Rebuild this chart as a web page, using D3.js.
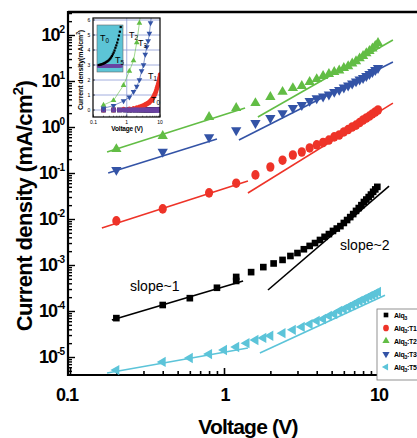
<!DOCTYPE html>
<html><head><meta charset="utf-8">
<script src="https://cdn.jsdelivr.net/npm/d3@7"></script>
<style>
body{margin:0;background:#fff;}
svg{display:block;font-family:"Liberation Sans",Arial,Helvetica,sans-serif;}
</style>
</head><body>
<svg id="c" width="417" height="438"></svg>
<script>
// ---------------- data ----------------
const seriesKeys = ["T0","T1","T2","T3","T5"];
const legendSuffix = ["", ":T1", ":T2", ":T3", ":T5"];
const xMajorTicks = [0.1, 1, 10];
const xTickLabels = ["0.1", "1", "10"];
const yMajorTicks = [1e-5, 1e-4, 1e-3, 1e-2, 1e-1, 1e0, 1e1, 1e2];
const yTickExponents = ["-5", "-4", "-3", "-2", "-1", "0", "1", "2"];

// Alq3 (black squares)
const voltT0 = [0.2,0.4,0.6,0.9,1.2,1.2,1.5,1.8,2.1,2.4,2.7,3.0,3.3,3.6,3.9,4.2,4.5,4.8,5.1,5.4,5.7,6.0,6.3,6.6,6.9,7.2,7.5,7.8,8.1,8.4,8.7,9.0,9.3,9.6,9.9];
const jT0 = [7.0e-5,1.35e-4,1.9e-4,3.2e-4,4.5e-4,5.5e-4,7.0e-4,9.0e-4,1.08e-3,1.29e-3,1.57e-3,1.82e-3,2.2e-3,2.6e-3,3.0e-3,3.5e-3,4.1e-3,4.7e-3,5.5e-3,6.2e-3,7.0e-3,8.2e-3,9.5e-3,1.1e-2,1.28e-2,1.5e-2,1.73e-2,2.0e-2,2.34e-2,2.65e-2,3.0e-2,3.4e-2,3.9e-2,4.4e-2,5.0e-2];

// Alq3:T1, T2, T3 share voltages
const voltDoped = [0.2,0.4,0.8,1.2,1.6,2.0,2.4,2.8,3.2,3.6,4.0,4.4,4.8,5.2,5.6,6.0,6.4,6.8,7.2,7.6,8.0,8.4,8.8,9.2,9.6,10];
const jT1 = [0.0091,0.0166,0.037,0.06,0.091,0.135,0.19,0.246,0.286,0.35,0.41,0.46,0.52,0.61,0.67,0.78,0.88,1.0,1.1,1.25,1.42,1.57,1.73,1.92,2.12,2.34];
const jT2 = [0.33,0.64,1.65,2.6,3.3,4.5,5.8,7.0,7.8,9.5,11,12.8,14.2,15.7,16.9,19.2,21,24,27,31,35,40,45,51,58,67];
const jT3 = [0.117,0.29,0.6,0.85,1.22,1.57,2.0,2.6,3.0,3.7,4.2,4.6,5.1,5.8,6.4,7.2,8.0,8.8,9.8,10.8,11.6,12.8,14.2,15.7,17.3,19.2];

// Alq3:T5 (cyan left triangles)
const voltT5 = [0.2,0.4,0.6,0.8,1.0,1.2,1.4,1.6,1.8,2.0,2.4,2.8,3.2,3.6,4.0,4.4,4.8,5.2,5.6,6.0,6.4,6.8,7.2,7.6,8.0,8.4,8.8,9.2,9.6,10];
const jT5 = [5.2e-6,7.8e-6,9.5e-6,1.16e-5,1.42e-5,1.65e-5,2.0e-5,2.34e-5,2.6e-5,2.9e-5,3.3e-5,3.9e-5,4.5e-5,5.2e-5,6.1e-5,6.7e-5,7.8e-5,8.6e-5,1.0e-4,1.1e-4,1.22e-4,1.35e-4,1.5e-4,1.65e-4,1.78e-4,1.92e-4,2.1e-4,2.23e-4,2.4e-4,2.6e-4];

// fitted power-law segments [[V,J],[V,J]]
const fitT0 = [[[0.187,6.4e-5],[1.33,4.5e-4]], [[1.93,2.86e-4],[11.8,0.052]]];
const fitT1 = [[[0.161,6.4e-3],[1.43,0.067]], [[1.43,0.0367],[12.5,3.3]]];
const fitT2 = [[[0.174,0.286],[1.37,2.59]], [[1.66,1.65],[12.5,78]]];
const fitT3 = [[[0.177,0.1],[0.90,0.55]], [[1.25,0.52],[12.5,25.9]]];
const fitT5 = [[[0.174,4.5e-6],[1.43,1.57e-5]], [[1.71,1.22e-5],[11.1,2.2e-4]]];

// inset
const insetYTicks = [0,1,2,3,4,5,6];
const insetXTickLabels = ["0.1","1","10"];

// ---------------- styles ----------------
const colors = {T0:"#000000", T1:"#ee3328", T2:"#62bd45", T3:"#3353a6", T5:"#5cc4d9"};
const purple = "#6a42a2";

const svg = d3.select("#c");
const PL=68, PR=440, PT=12, PB=375;
const x = d3.scaleLog().domain([0.1,10]).range([70,378]);
const y = d3.scaleLog().domain([1e-5,1e2]).range([357,35]);

const series = [
  {key:"T5", v:voltT5, j:jT5, fit:fitT5, shape:"left"},
  {key:"T0", v:voltT0, j:jT0, fit:fitT0, shape:"square"},
  {key:"T1", v:voltDoped, j:jT1, fit:fitT1, shape:"circle"},
  {key:"T3", v:voltDoped, j:jT3, fit:fitT3, shape:"down"},
  {key:"T2", v:voltDoped, j:jT2, fit:fitT2, shape:"up"}
];

function marker(sel, shape, color, scale){
  scale = scale||1;
  if(shape==="circle"){
    sel.append("ellipse").attr("rx",4.1*scale).attr("ry",4.8*scale).attr("fill",color);
  } else if(shape==="square"){
    sel.append("path").attr("d",d3.symbol(d3.symbolSquare,44*scale*scale)()).attr("fill",color);
  } else {
    const rot = shape==="up"?0:(shape==="down"?180:-90);
    sel.append("path").attr("d",d3.symbol(d3.symbolTriangle,46*scale*scale)())
      .attr("transform",`rotate(${rot})`).attr("fill",color);
  }
}

// clip
svg.append("defs").append("clipPath").attr("id","pc")
  .append("rect").attr("x",PL).attr("y",PT).attr("width",PR-PL).attr("height",PB-PT);

// axes ticks (inward)
const xMinor = [];
[0.1,1,10].forEach(d=>{for(let k=2;k<=9;k++) xMinor.push(d*k);});
const yMinor = [];
[1e-6,1e-5,1e-4,1e-3,1e-2,1e-1,1,10,100].forEach(d=>{for(let k=2;k<=9;k++){const v=d*k; if(y(v)<=PB && y(v)>=PT) yMinor.push(v);}});

const gx = svg.append("g").attr("transform",`translate(0,${PB})`);
gx.call(d3.axisBottom(x).tickValues(xMajorTicks).tickSize(-7).tickFormat(""));
gx.append("g").call(d3.axisBottom(x).tickValues(xMinor.filter(v=>x(v)<PR)).tickSize(-4).tickFormat(""));
gx.selectAll(".domain").remove();
gx.selectAll("line").attr("stroke","#000").attr("stroke-width",1.6);

const gy = svg.append("g").attr("transform",`translate(${PL},0)`);
gy.call(d3.axisLeft(y).tickValues(yMajorTicks).tickSize(-7).tickFormat(""));
gy.append("g").call(d3.axisLeft(y).tickValues(yMinor).tickSize(-4).tickFormat(""));
gy.selectAll(".domain").remove();
gy.selectAll("line").attr("stroke","#000").attr("stroke-width",1.4);

// frame
svg.append("line").attr("x1",PL).attr("x2",PR).attr("y1",PT).attr("y2",PT).attr("stroke","#000").attr("stroke-width",2.5);
svg.append("line").attr("x1",PL).attr("x2",PR).attr("y1",PB).attr("y2",PB).attr("stroke","#000").attr("stroke-width",2.2);
svg.append("line").attr("x1",PL).attr("x2",PL).attr("y1",PT-1).attr("y2",PB+1).attr("stroke","#000").attr("stroke-width",2.2);

// tick labels
xMajorTicks.forEach((t,i)=>{
  svg.append("text").attr("x",x(t)+(i===0?-3:1)).attr("y",401).attr("text-anchor","middle")
    .attr("font-size",18).attr("font-weight","bold").attr("letter-spacing",-1).text(xTickLabels[i]);
});
yMajorTicks.forEach((t,i)=>{
  const tx = svg.append("text").attr("x",64).attr("y",y(t)+6).attr("text-anchor","end")
    .attr("font-weight","bold").attr("letter-spacing",-1);
  tx.append("tspan").attr("font-size",18).text("10");
  tx.append("tspan").attr("font-size",10).attr("dy",-8).text(yTickExponents[i]);
});

// axis titles
svg.append("text").attr("x",248).attr("y",434).attr("text-anchor","middle")
  .attr("font-size",21).attr("font-weight","bold").attr("letter-spacing",-0.8).text("Voltage (V)");
const yt = svg.append("text").attr("transform","translate(32,206) rotate(-90)").attr("text-anchor","middle")
  .attr("font-size",22).attr("font-weight","bold").attr("letter-spacing",-0.6);
yt.append("tspan").text("Current density (mA/cm");
yt.append("tspan").attr("font-size",15).attr("dy",-9).text("2");
yt.append("tspan").attr("dy",9).text(")");

// plot content
const plot = svg.append("g").attr("clip-path","url(#pc)");
const line = d3.line().x(d=>x(d[0])).y(d=>y(d[1]));
series.forEach(s=>{
  s.fit.forEach(seg=>{
    plot.append("path").attr("d",line(seg)).attr("fill","none").attr("stroke",colors[s.key]).attr("stroke-width",1.6);
  });
});
series.forEach(s=>{
  const pts = s.v.map((v,i)=>[v,s.j[i]]);
  plot.selectAll(null).data(pts).enter().append("g")
    .attr("transform",d=>`translate(${x(d[0])},${y(d[1])})`)
    .each(function(){ marker(d3.select(this), s.shape, colors[s.key]); });
});

// annotations
svg.append("text").attr("x",130).attr("y",291).attr("font-size",14).text("slope~1");
svg.append("text").attr("x",340).attr("y",250).attr("font-size",14).text("slope~2");

// legend
const lg = svg.append("g");
lg.append("rect").attr("x",377).attr("y",309).attr("width",60).attr("height",71)
  .attr("fill","#fff").attr("stroke","#777").attr("stroke-width",0.8);
const legShapes = {T0:"square",T1:"circle",T2:"up",T3:"down",T5:"left"};
seriesKeys.forEach((k,i)=>{
  const yy = 315 + i*13;
  const g = lg.append("g").attr("transform",`translate(386,${yy})`);
  marker(g, legShapes[k], colors[k], 0.7);
  const t = lg.append("text").attr("x",394).attr("y",yy+2.5).attr("font-size",7).attr("font-weight","bold").attr("letter-spacing",-0.3);
  t.append("tspan").text("Alq");
  t.append("tspan").attr("font-size",5).attr("dy",2).text("3");
  t.append("tspan").attr("dy",-2).text(legendSuffix[i]);
});

// ---------------- inset ----------------
const IL=93, IR=160, IT=18, IB=117;
const ix = d3.scaleLog().domain([0.1,10]).range([93.5,160]);
const iy = d3.scaleLinear().domain([0,6]).range([110,20]);
const ins = svg.append("g");
ins.append("rect").attr("x",IL).attr("y",IT).attr("width",IR-IL).attr("height",IB-IT).attr("fill","#fff");
svg.select("defs").append("clipPath").attr("id","ic").append("rect")
  .attr("x",IL).attr("y",IT).attr("width",IR-IL).attr("height",IB-IT);
// grid
insetYTicks.forEach(t=>{
  ins.append("line").attr("x1",IL).attr("x2",IR).attr("y1",iy(t)).attr("y2",iy(t))
    .attr("stroke","#8c9bd6").attr("stroke-width",0.8);
});
ins.append("line").attr("x1",ix(1)).attr("x2",ix(1)).attr("y1",IT).attr("y2",IB).attr("stroke","#8c9bd6").attr("stroke-width",0.8);

const ip = ins.append("g").attr("clip-path","url(#ic)");
const inSeries = [
  {v:voltT0, j:jT0, color:colors.T0, shape:"square", line:false},
  {v:voltDoped, j:jT1, color:colors.T1, shape:"circle", line:false},
  {v:voltT5, j:jT5, color:purple, shape:"square", line:false},
  {v:voltDoped, j:jT2, color:colors.T2, shape:"up", line:true},
  {v:voltDoped, j:jT3, color:colors.T3, shape:"down", line:true}
];
inSeries.forEach(s=>{
  const pts = s.v.map((v,i)=>[v,s.j[i]]);
  if(s.line){
    ip.append("path").attr("d",d3.line().x(d=>ix(d[0])).y(d=>iy(d[1]))(pts))
      .attr("fill","none").attr("stroke",s.color).attr("stroke-width",0.6);
  }
  ip.selectAll(null).data(pts).enter().append("g")
    .attr("transform",d=>`translate(${ix(d[0])},${iy(d[1])})`)
    .each(function(){ marker(d3.select(this), s.shape, s.color, s.shape==="square"?0.7:0.55); });
});
// inset frame & ticks
ins.append("rect").attr("x",IL).attr("y",IT).attr("width",IR-IL).attr("height",IB-IT)
  .attr("fill","none").attr("stroke","#000").attr("stroke-width",1.2);
insetYTicks.forEach(t=>{
  ins.append("line").attr("x1",IL).attr("x2",IL+2).attr("y1",iy(t)).attr("y2",iy(t)).attr("stroke","#000").attr("stroke-width",0.6);
  ins.append("text").attr("x",89).attr("y",iy(t)+2).attr("text-anchor","middle").attr("font-size",5).text(t);
});
xMajorTicks.forEach((t,i)=>{
  ins.append("line").attr("x1",ix(t)).attr("x2",ix(t)).attr("y1",IB).attr("y2",IB-2.5).attr("stroke","#000").attr("stroke-width",0.6);
  ins.append("text").attr("x",ix(t)).attr("y",124).attr("text-anchor","middle").attr("font-size",5).text(insetXTickLabels[i]);
});
xMinor.filter(v=>v<10).forEach(t=>{
  ins.append("line").attr("x1",ix(t)).attr("x2",ix(t)).attr("y1",IB).attr("y2",IB-1.3).attr("stroke","#000").attr("stroke-width",0.5);
});
ins.append("text").attr("x",127).attr("y",131).attr("text-anchor","middle").attr("font-size",6.5).attr("font-weight","bold").attr("letter-spacing",-0.2).text("Voltage (V)");
const iyl = ins.append("text").attr("transform","translate(83,70) rotate(-90)").attr("text-anchor","middle")
  .attr("font-size",7).attr("font-weight","bold").attr("letter-spacing",-0.1);
iyl.append("tspan").text("Current density(mA/cm");
iyl.append("tspan").attr("font-size",5).attr("dy",-3).text("2");
iyl.append("tspan").attr("dy",3).text(")");

// curve labels in inset
function tLabel(g, xx, yy, sub, fs){
  const t = g.append("text").attr("x",xx).attr("y",yy).attr("font-size",fs);
  t.append("tspan").text("T");
  t.append("tspan").attr("font-size",fs*0.7).attr("dy",fs*0.25).text(sub);
}
tLabel(ins,129,38,"2",9);
tLabel(ins,138,46,"3",9);
tLabel(ins,148,79,"1",9);
tLabel(ins,151,103,"0",9);

// inner box
const bx = d3.scaleLinear().domain([2.5,10]).range([99,121]);
const by = d3.scaleLinear().domain([-0.005,0.05]).range([70,27]);
ins.append("rect").attr("x",97).attr("y",25).attr("width",26).attr("height",47).attr("fill","#5cc4d6").attr("stroke","#666").attr("stroke-width",0.6);
const inner = ins.append("g");
voltT5.forEach((v,i)=>{ if(v>=2.4){
  inner.append("rect").attr("x",bx(v)-1.7).attr("y",by(jT5[i])-1.7).attr("width",3.4).attr("height",3.4).attr("fill",purple);
}});
voltT0.forEach((v,i)=>{ if(v>=2.4){
  inner.append("rect").attr("x",bx(v)-1.1).attr("y",by(jT0[i])-1.1).attr("width",2.2).attr("height",2.2).attr("fill","#000");
}});
tLabel(ins,100,41,"0",9);
tLabel(ins,115,63,"5",9);
</script>
</body></html>
